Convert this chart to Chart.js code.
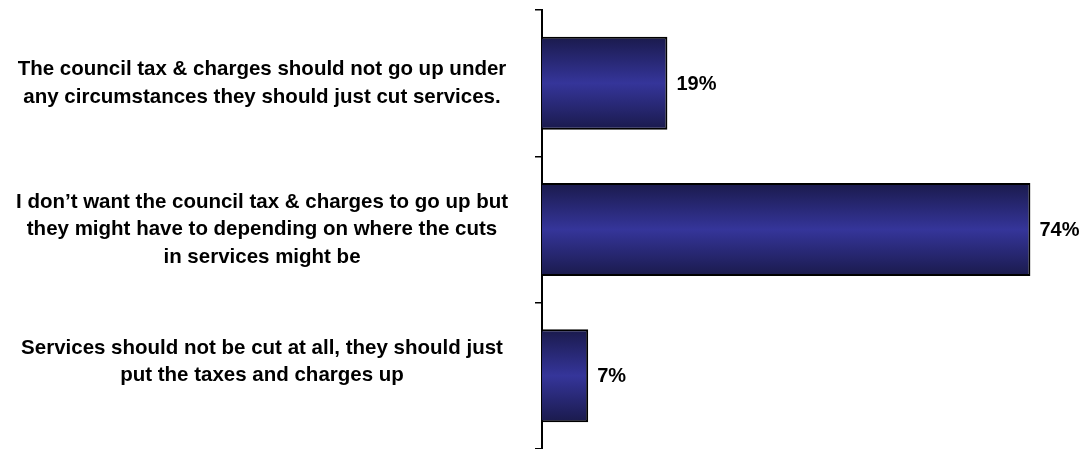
<!DOCTYPE html>
<html>
<head>
<meta charset="utf-8">
<script src="https://cdn.jsdelivr.net/npm/chart.js@4.4.1/dist/chart.umd.min.js"></script>
<style>
    html, body { margin: 0; padding: 0; background: #ffffff; }
    #wrap { width: 1083px; height: 449px; position: relative; }
</style>
</head>
<body>
<div id="wrap"><canvas id="grafica"></canvas></div>
<script>
// Respuestas de la encuesta
const categorias = [
    ["The council tax & charges should not go up under", "any circumstances they should just cut services."],
    ["I don\u2019t want the council tax & charges to go up but", "they might have to depending on where the cuts", "in services might be"],
    ["Services should not be cut at all, they should just", "put the taxes and charges up", ""]
];
const porcentajes = [19, 74, 7];
const etiquetas = ["19%", "74%", "7%"];

const fuente = "'Liberation Sans', Arial, sans-serif";

// Degradado vertical de cada barra (oscuro en los bordes, claro al centro)
function degradadoBarra(context) {
    const chart = context.chart;
    const y = chart.scales.y;
    if (!chart.chartArea || !y || y.top === undefined) return '#2e2e88';
    const centro = y.getPixelForValue(context.dataIndex);
    const ancho = (y.bottom - y.top) / categorias.length * 0.636;
    const g = chart.ctx.createLinearGradient(0, centro - ancho / 2, 0, centro + ancho / 2);
    g.addColorStop(0, '#1a1a4c');
    g.addColorStop(0.5, '#35359a');
    g.addColorStop(1, '#1a1a4c');
    return g;
}

// Etiquetas de valor al final de cada barra
const etiquetasValor = {
    id: 'etiquetasValor',
    afterDatasetsDraw(chart) {
        const ctx = chart.ctx;
        const meta = chart.getDatasetMeta(0);
        ctx.save();
        ctx.fillStyle = '#000';
        ctx.font = "bold 20px " + fuente;
        ctx.textAlign = 'left';
        ctx.textBaseline = 'middle';
        meta.data.forEach((barra, i) => {
            ctx.fillText(etiquetas[i], barra.x + 9, barra.y + 1);
        });
        ctx.restore();
    }
};

const ctx = document.getElementById("grafica").getContext("2d");
const grafica = new Chart(ctx, {
    type: 'bar',
    data: {
        labels: categorias,
        datasets: [{
            data: porcentajes,
            backgroundColor: degradadoBarra,
            borderColor: '#000',
            borderWidth: 2,
            borderSkipped: 'start',
            barPercentage: 0.636,
            categoryPercentage: 1
        }]
    },
    options: {
        indexAxis: 'y',
        responsive: true,
        maintainAspectRatio: false,
        animation: false,
        layout: { padding: { top: 10, right: 13, bottom: 0, left: 0 } },
        scales: {
            x: { display: false, min: 0, max: 80 },
            y: {
                afterFit(axis) {
                    // ancho fijo para las etiquetas y sin relleno extra arriba/abajo
                    axis.width = 542;
                    axis.paddingTop = 0;
                    axis.paddingBottom = 0;
                },
                border: { display: true, color: '#000', width: 2 },
                grid: {
                    drawOnChartArea: false,
                    drawTicks: true,
                    tickLength: 7,
                    color: '#000',
                    lineWidth: 1.5
                },
                ticks: {
                    crossAlign: 'center',
                    padding: 27,
                    color: '#000',
                    font: { family: fuente, size: 20.5, weight: 'bold', lineHeight: '27.5px' }
                }
            }
        },
        plugins: {
            legend: { display: false },
            tooltip: { enabled: false }
        }
    },
    plugins: [etiquetasValor]
});
</script>
</body>
</html>
